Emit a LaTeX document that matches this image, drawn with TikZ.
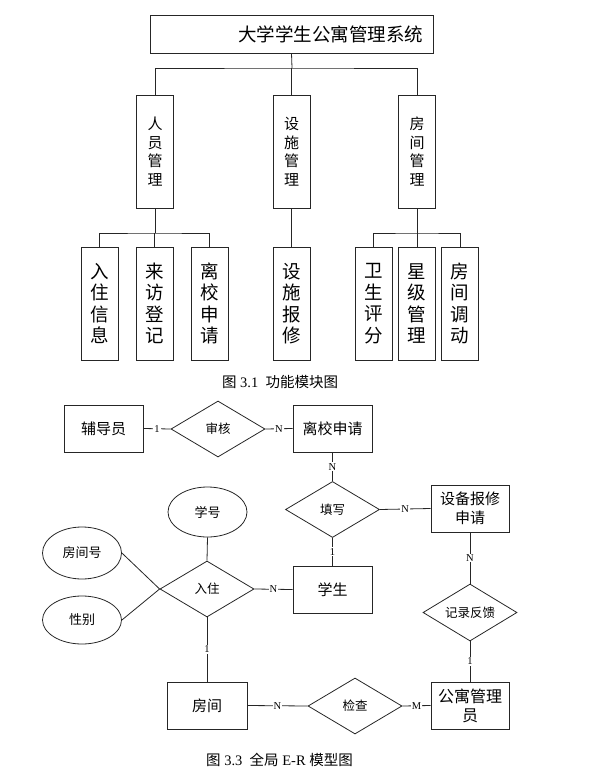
\documentclass[tikz,border=0pt]{standalone}
\usepackage{fontspec}
\setmainfont{Liberation Serif}
\newfontfamily\cjk{Noto Sans CJK SC}
\usetikzlibrary{shapes.geometric}
\begin{document}
\begin{tikzpicture}[x=1pt,y=-1pt,
  box/.style={draw=black!85, line width=0.9pt, rectangle, inner sep=0pt},
  vbox/.style={box, minimum width=37pt, minimum height=113pt, align=center},
  midbox/.style={vbox, font=\cjk\fontsize{15}{18.5}\selectfont},
  leafbox/.style={vbox, font=\cjk\fontsize{18.5}{21.5}\selectfont},
  ent/.style={box, minimum width=79pt, minimum height=47pt, align=center, font=\cjk\fontsize{15}{18.5}\selectfont},
  rel/.style={draw=black!85, line width=0.8pt, diamond, aspect=1.7, inner sep=0pt, minimum width=94pt, minimum height=56pt, font=\cjk\fontsize{12.5}{15}\selectfont},
  attr/.style={draw=black!85, line width=0.8pt, ellipse, inner sep=0pt, minimum width=79pt, minimum height=50pt, font=\cjk\fontsize{13}{15}\selectfont},
  conn/.style={draw=black!85, line width=0.8pt},
  card/.style={fill=white, inner sep=1pt, font=\fontsize{10.5}{12}\selectfont},
  capt/.style={font=\fontsize{14.5}{17}\selectfont, inner sep=0pt},
]
\useasboundingbox (0,0) rectangle (588,775);

% ---------- Figure 3.1 ----------
\node[box, minimum width=283pt, minimum height=38pt, text width=263pt, align=right,
      font=\cjk\fontsize{18.5}{22}\selectfont] (title) at (291.5,34) {大学学生公寓管理系统};

\node[midbox] (rygl) at (155,151.5) {人\\员\\管\\理};
\node[midbox] (ssgl) at (291.5,151.5) {设\\施\\管\\理};
\node[midbox] (fjgl) at (417,151.5) {房\\间\\管\\理};

\node[leafbox] (rzxx) at (99.5,303.5) {入\\住\\信\\息};
\node[leafbox] (lfdj) at (154.5,303.5) {来\\访\\登\\记};
\node[leafbox] (lxsq) at (209.5,303.5) {离\\校\\申\\请};
\node[leafbox] (ssbx) at (291.5,303.5) {设\\施\\报\\修};
\node[leafbox] (wspf) at (373.5,303.5) {卫\\生\\评\\分};
\node[leafbox] (xjgl) at (417,303.5) {星\\级\\管\\理};
\node[leafbox] (fjdd) at (460,303.5) {房\\间\\调\\动};

\coordinate (bus0) at (292,68);
\coordinate (bus1) at (155,233);
\coordinate (bus3) at (417,233);

\draw[conn] (title.south) -- (bus0);
\draw[conn] (rygl.north) |- (bus0) -| (fjgl.north);
\draw[conn] (ssgl.north) -- (ssgl.north |- bus0);

\draw[conn] (rygl.south) -- (bus1);
\draw[conn] (rzxx.north) |- (bus1) -| (lxsq.north);
\draw[conn] (lfdj.north) -- (lfdj.north |- bus1);

\draw[conn] (ssgl.south) -- (ssbx.north);

\draw[conn] (fjgl.south) -- (bus3);
\draw[conn] (wspf.north) |- (bus3) -| (fjdd.north);
\draw[conn] (xjgl.north) -- (bus3);

\node[capt] (cap1) at (280,382) {{\cjk 图} 3.1\ \ {\cjk 功能模块图}};

% ---------- Figure 3.3 ----------
\node[ent] (fdy) at (103.5,428.5) {辅导员};
\node[rel] (sh) at (218,429) {审核};
\node[ent] (lxsq2) at (332.5,428.5) {离校申请};
\node[rel] (tx) at (332.5,509.5) {填写};
\node[ent, minimum width=78pt] (sbbx) at (470,508.5) {设备报修\\申请};
\node[ent] (xs) at (332.5,589.5) {学生};
\node[rel] (rz) at (207,589) {入住};
\node[attr] (xh) at (207.5,512) {学号};
\node[attr, minimum height=52pt] (fjh) at (82,553) {房间号};
\node[attr, minimum height=48pt] (xb) at (82,620) {性别};
\node[ent, minimum width=80pt] (fj) at (207,705.5) {房间};
\node[rel] (jc) at (355,706) {检查};
\node[ent, minimum width=78pt, font=\cjk\fontsize{16}{19}\selectfont] (gy) at (470,705.5) {公寓管理\\员};
\node[rel, minimum height=57pt] (jlfk) at (470,612.5) {记录反馈};

\draw[conn] (fdy.east) -- node[card]{1} (sh.west);
\draw[conn] (sh.east) -- node[card]{N} (lxsq2.west);
\draw[conn] (lxsq2.south) -- node[card]{N} (tx.north);
\draw[conn] (tx.east) -- node[card]{N} (sbbx.west);
\draw[conn] (tx.south) -- node[card]{1} (xs.north);
\draw[conn] (xh.south) -- (rz.north);
\draw[conn] (fjh.east) -- (rz.west);
\draw[conn] (xb.east) -- (rz.west);
\draw[conn] (rz.east) -- node[card]{N} (xs.west);
\draw[conn] (rz.south) -- node[card]{1} (fj.north);
\draw[conn] (fj.east) -- node[card]{N} (jc.west);
\draw[conn] (jc.east) -- node[card]{M} (gy.west);
\draw[conn] (sbbx.south) -- node[card]{N} (jlfk.north);
\draw[conn] (jlfk.south) -- node[card]{1} (gy.north);

\node[capt] (cap3) at (279.5,760) {{\cjk 图} 3.3\ \ {\cjk 全局} E-R {\cjk 模型图}};
\end{tikzpicture}
\end{document}
